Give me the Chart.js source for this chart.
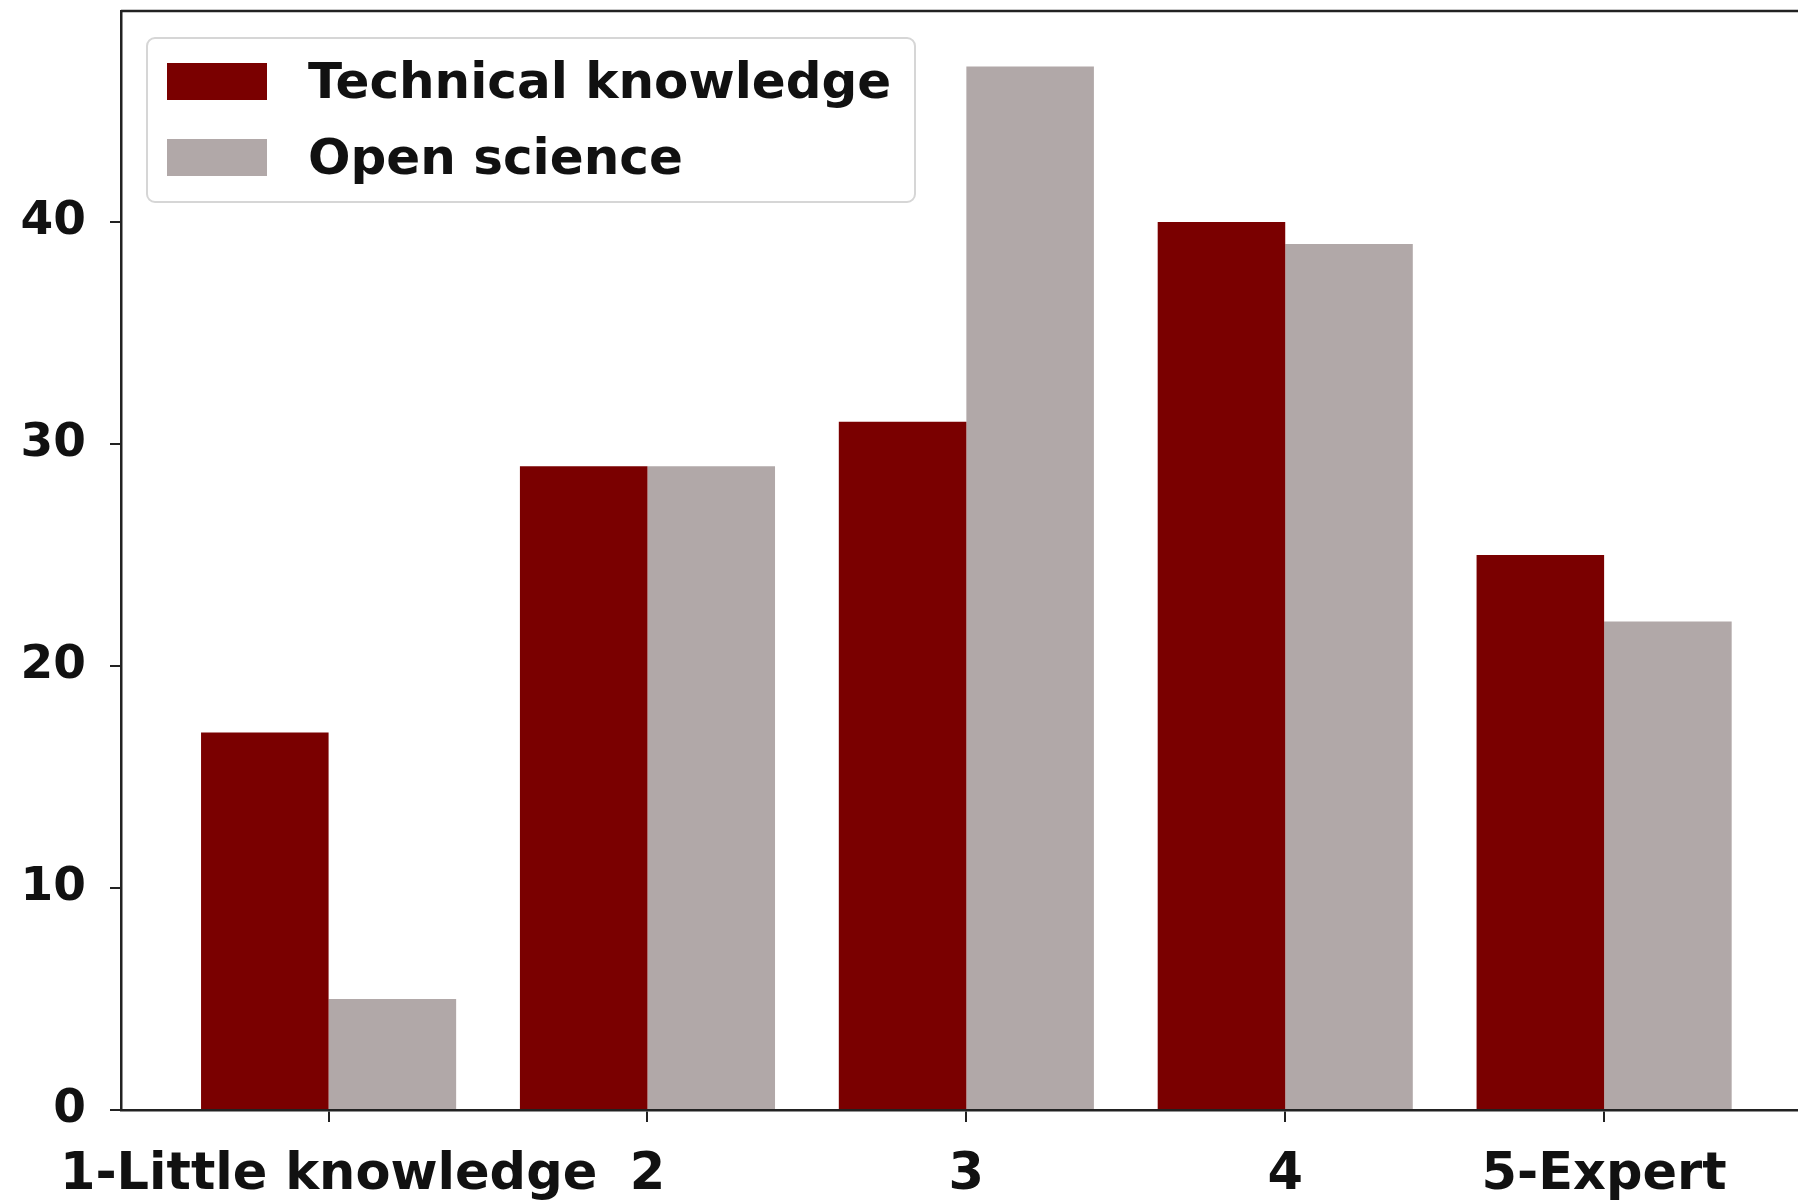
<!DOCTYPE html>
<html>
<head>
<meta charset="utf-8">
<title>Technical knowledge and Open science</title>
<script src="https://cdn.jsdelivr.net/npm/chart.js@4.4.1/dist/chart.umd.min.js"></script>
<style>
  html, body { margin: 0; padding: 0; background: #fff; overflow: hidden; }
  #wrap { position: relative; width: 1798px; height: 1202px; }
  #legendBox {
    position: absolute; box-sizing: border-box;
    width: 770px; height: 166px; padding: 4px 0 0 19px;
    background: #fff; border: 2px solid #d6d6d6; border-radius: 9px;
    font-family: 'DejaVu Sans', sans-serif; font-weight: bold; font-size: 50px; color: #111;
  }
  .legendRow { display: flex; align-items: center; height: 76px; }
  .legendSwatch { width: 100px; height: 37px; margin-right: 41px; }
</style>
</head>
<body>
<div id="wrap">
  <canvas id="knowledgeChart" width="1798" height="1202"></canvas>
  <div id="legendBox"></div>
</div>
<script>
var categories = ['1-Little knowledge', '2', '3', '4', '5-Expert'];
var technicalKnowledge = [17, 29, 31, 40, 25];
var openScience = [5, 29, 47, 39, 22];
var yTicks = [0, 10, 20, 30, 40];

var colorTechnical = '#7a0000';
var colorOpen = '#b1a8a8';
var axisColor = '#222';

function setDataForKnowledge(values) {
  return categories.map(function (c, i) { return { x: i + 1, y: values[i] }; });
}

// top spine, the matplotlib frame (right side is cropped off in the original)
var topSpine = {
  id: 'topSpine',
  afterDraw: function (chart) {
    var a = chart.chartArea, ctx = chart.ctx;
    ctx.save();
    ctx.strokeStyle = axisColor;
    ctx.lineWidth = 2.5;
    ctx.beginPath();
    ctx.moveTo(a.left, a.top);
    ctx.lineTo(a.right, a.top);
    ctx.stroke();
    ctx.restore();
  }
};

// legend as html, sitting inside the plot area
var htmlLegend = {
  id: 'htmlLegend',
  afterUpdate: function (chart) {
    var box = document.getElementById('legendBox');
    var a = chart.chartArea;
    box.style.left = (a.left + 25) + 'px';
    box.style.top = (a.top + 26) + 'px';
    box.innerHTML = '';
    chart.data.datasets.forEach(function (ds) {
      var row = document.createElement('div');
      row.className = 'legendRow';
      var sw = document.createElement('span');
      sw.className = 'legendSwatch';
      sw.style.background = ds.backgroundColor;
      var txt = document.createElement('span');
      txt.textContent = ds.label;
      row.appendChild(sw);
      row.appendChild(txt);
      box.appendChild(row);
    });
  }
};

var dataForKnowledge = {
  datasets: [{
    label: 'Technical knowledge',
    data: setDataForKnowledge(technicalKnowledge),
    backgroundColor: colorTechnical,
    borderWidth: 0
  },
  {
    label: 'Open science',
    data: setDataForKnowledge(openScience),
    backgroundColor: colorOpen,
    borderWidth: 0
  }]
};

var optionsForKnowledge = {
  responsive: false,
  devicePixelRatio: 1,
  animation: false,
  events: [],
  barPercentage: 1.0,
  categoryPercentage: 0.8,
  layout: { padding: { top: 11, left: 0, right: 0, bottom: 0 } },
  plugins: { legend: { display: false }, tooltip: { enabled: false } },
  scales: {
    x: {
      type: 'linear',
      min: 0.349,
      max: 5.608,
      offset: false,
      grid: { offset: false, drawOnChartArea: false, tickLength: 12, color: axisColor, lineWidth: 2 },
      border: { color: axisColor, width: 2.5 },
      afterBuildTicks: function (axis) {
        axis.ticks = categories.map(function (c, i) { return { value: i + 1 }; });
      },
      afterFit: function (scale) {
        scale.height = 92;
        scale.paddingLeft = 0;
        scale.paddingRight = 0;
      },
      ticks: {
        autoSkip: false, maxRotation: 0, padding: 23, color: '#111',
        font: { family: "'DejaVu Sans', sans-serif", weight: 'bold', size: 51 },
        callback: function (v, i) { return categories[i]; }
      }
    },
    y: {
      min: 0,
      max: 49.5,
      grid: { drawOnChartArea: false, tickLength: 11, color: axisColor, lineWidth: 2 },
      border: { color: axisColor, width: 2.5 },
      afterBuildTicks: function (axis) {
        axis.ticks = yTicks.map(function (t) { return { value: t }; });
      },
      afterFit: function (scale) {
        scale.width = 121;
        scale.paddingTop = 0;
        scale.paddingBottom = 0;
      },
      ticks: {
        padding: 24, color: '#111',
        font: { family: "'DejaVu Sans', sans-serif", weight: 'bold', size: 47 }
      }
    }
  }
};

var ChartIDknowledge = document.getElementById('knowledgeChart').getContext('2d');
var ChartforKnowledge = new Chart(ChartIDknowledge, {
  type: 'bar',
  data: dataForKnowledge,
  options: optionsForKnowledge,
  plugins: [topSpine, htmlLegend]
});
</script>
</body>
</html>
